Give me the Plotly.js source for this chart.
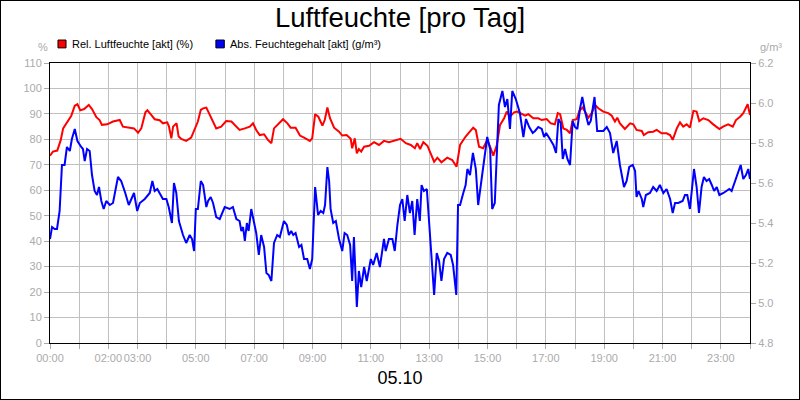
<!DOCTYPE html>
<html>
<head>
<meta charset="utf-8">
<script src="https://cdn.plot.ly/plotly-3.0.1.min.js"></script>
<style>
  html, body { margin: 0; padding: 0; background: #fff; }
  #wrap { width: 800px; height: 400px; box-sizing: border-box; border: 1px solid #000; }
  #chart { width: 798px; height: 398px; }
</style>
</head>
<body>
<div id="wrap"><div id="chart"></div></div>
<script>
// ---- Data (time in hours of 05.10) ----
const relTime = [0,0.10,0.25,0.37,0.45,0.62,0.73,0.85,0.94,1.04,1.17,1.33,1.44,1.59,1.70,1.78,1.96,2.16,2.27,2.39,2.50,2.73,2.88,3.02,3.13,3.27,3.34,3.47,3.59,3.76,3.87,4.02,4.08,4.16,4.22,4.34,4.41,4.50,4.67,4.84,4.96,5.07,5.17,5.25,5.36,5.48,5.59,5.70,5.87,6.04,6.22,6.33,6.50,6.68,6.85,6.96,7.07,7.19,7.34,7.47,7.59,7.68,7.82,7.99,8.14,8.25,8.42,8.57,8.71,8.91,8.99,9.09,9.20,9.34,9.42,9.51,9.60,9.74,9.91,10.02,10.17,10.31,10.36,10.45,10.52,10.59,10.67,10.77,10.94,11.11,11.28,11.45,11.62,11.79,12.02,12.20,12.37,12.51,12.59,12.69,12.80,12.94,13.05,13.17,13.28,13.42,13.62,13.79,13.94,14.06,14.25,14.40,14.51,14.60,14.71,14.85,14.99,15.11,15.20,15.32,15.43,15.57,15.66,15.77,15.91,16.02,16.29,16.40,16.57,16.74,16.86,17.03,17.17,17.31,17.41,17.49,17.60,17.72,17.83,17.92,18.06,18.15,18.26,18.34,18.46,18.57,18.69,18.80,18.97,19.14,19.26,19.37,19.45,19.54,19.71,19.89,20.00,20.11,20.29,20.36,20.51,20.68,20.80,20.97,21.14,21.26,21.35,21.49,21.60,21.71,21.83,21.94,22.06,22.17,22.26,22.40,22.57,22.74,22.95,23.08,23.25,23.41,23.52,23.66,23.77,23.92,24.0];
const relHum = [73.6,75.2,75.6,79.8,84.3,87.6,89.3,93.2,93.8,91.4,91.9,93.5,91.9,88.7,87.6,85.7,85.9,87.0,87.2,87.6,85.0,84.6,84.3,82.6,84.3,90.6,91.4,89.6,87.9,87.5,86.3,86.7,85.0,80.4,85.0,86.3,81.1,80.2,79.4,80.7,84.3,87.0,91.6,92.2,92.5,89.6,87.6,84.3,85.0,87.2,87.0,85.7,83.7,84.3,85.0,86.3,83.7,81.7,82.0,79.8,78.5,84.3,85.9,87.9,86.3,84.6,84.6,81.5,80.7,79.4,80.4,89.9,88.9,85.4,87.6,92.5,88.3,84.6,83.0,81.5,81.7,80.2,76.5,80.4,74.5,76.2,75.2,77.1,77.5,78.9,77.8,79.4,78.9,79.4,80.2,78.5,77.8,76.5,78.5,76.2,78.9,77.5,74.5,71.2,72.8,71.0,72.8,71.9,69.3,77.8,81.1,83.0,84.6,83.7,77.1,76.5,79.8,76.5,73.6,77.8,85.7,88.3,90.9,88.9,90.6,90.9,89.3,89.9,88.3,88.3,87.6,88.0,86.3,85.9,90.3,89.9,84.3,83.7,82.4,87.6,87.9,91.2,92.5,90.9,88.5,90.3,93.5,92.2,90.9,90.3,89.3,87.0,88.5,86.3,84.1,86.3,85.9,83.7,83.3,81.7,82.8,83.0,83.7,82.4,82.4,81.7,79.8,84.3,86.7,85.0,85.9,84.6,91.2,90.9,87.2,88.3,87.6,85.9,84.1,85.0,85.9,85.0,87.6,88.9,90.3,93.8,89.6];

const absTime = [0,0.07,0.16,0.24,0.33,0.41,0.50,0.58,0.68,0.75,0.85,0.94,1.07,1.13,1.19,1.27,1.36,1.44,1.53,1.61,1.68,1.76,1.84,1.93,2.05,2.16,2.33,2.44,2.58,2.70,2.88,2.99,3.08,3.25,3.42,3.51,3.59,3.68,3.87,3.99,4.07,4.18,4.25,4.33,4.42,4.56,4.67,4.79,4.87,4.94,5.00,5.07,5.17,5.25,5.36,5.42,5.51,5.59,5.70,5.82,5.99,6.16,6.27,6.39,6.50,6.56,6.62,6.68,6.75,6.81,6.90,6.99,7.07,7.16,7.24,7.34,7.42,7.50,7.59,7.68,7.79,7.88,8.02,8.12,8.19,8.27,8.34,8.42,8.54,8.62,8.71,8.82,8.91,8.99,9.09,9.19,9.28,9.37,9.43,9.51,9.57,9.62,9.71,9.80,9.91,10.02,10.10,10.19,10.29,10.36,10.42,10.52,10.59,10.67,10.77,10.86,11.00,11.08,11.20,11.31,11.45,11.51,11.62,11.74,11.82,11.91,12.00,12.08,12.16,12.25,12.34,12.42,12.50,12.59,12.68,12.74,12.82,12.92,12.99,13.09,13.17,13.26,13.34,13.42,13.51,13.62,13.74,13.82,13.93,13.99,14.06,14.17,14.25,14.31,14.40,14.50,14.60,14.68,14.77,14.86,14.99,15.09,15.16,15.25,15.34,15.39,15.51,15.60,15.68,15.77,15.85,15.97,16.11,16.23,16.32,16.43,16.55,16.63,16.74,16.86,16.94,17.01,17.14,17.26,17.35,17.43,17.51,17.58,17.66,17.74,17.83,17.92,18.00,18.08,18.17,18.25,18.34,18.46,18.54,18.61,18.67,18.76,18.86,18.97,19.09,19.20,19.31,19.43,19.54,19.68,19.77,19.86,19.98,20.06,20.11,20.18,20.29,20.34,20.43,20.57,20.68,20.80,20.91,21.03,21.14,21.26,21.35,21.43,21.54,21.69,21.77,21.85,21.94,22.00,22.08,22.17,22.25,22.34,22.42,22.51,22.60,22.69,22.77,22.86,22.95,23.09,23.20,23.29,23.37,23.49,23.60,23.68,23.77,23.86,23.94,24.0];
const absHum = [5.32,5.38,5.37,5.37,5.46,5.69,5.69,5.78,5.76,5.82,5.87,5.81,5.78,5.77,5.71,5.77,5.76,5.64,5.56,5.54,5.58,5.51,5.47,5.51,5.49,5.50,5.63,5.61,5.55,5.49,5.55,5.46,5.50,5.52,5.55,5.61,5.56,5.57,5.52,5.52,5.48,5.40,5.60,5.55,5.41,5.34,5.30,5.34,5.32,5.26,5.47,5.47,5.61,5.59,5.48,5.51,5.53,5.50,5.43,5.42,5.48,5.47,5.48,5.42,5.41,5.36,5.38,5.31,5.40,5.36,5.47,5.41,5.35,5.24,5.34,5.28,5.15,5.14,5.11,5.30,5.34,5.33,5.41,5.39,5.34,5.36,5.34,5.35,5.28,5.29,5.22,5.22,5.17,5.22,5.58,5.44,5.46,5.45,5.49,5.68,5.61,5.47,5.40,5.41,5.32,5.26,5.35,5.34,5.29,5.11,5.33,4.98,5.16,5.08,5.18,5.11,5.22,5.19,5.25,5.18,5.32,5.26,5.32,5.32,5.26,5.39,5.49,5.52,5.41,5.54,5.45,5.51,5.34,5.52,5.41,5.59,5.56,5.57,5.42,5.22,5.04,5.25,5.21,5.11,5.22,5.25,5.24,5.19,5.04,5.49,5.49,5.55,5.59,5.67,5.64,5.75,5.67,5.49,5.59,5.70,5.83,5.77,5.47,5.50,5.87,5.99,6.06,5.98,6.02,5.87,6.06,6.02,5.95,5.83,5.92,5.88,5.85,5.86,5.88,5.87,5.83,5.85,5.82,5.79,5.75,5.92,5.90,5.72,5.77,5.72,5.69,5.91,5.88,5.87,5.97,6.03,5.96,5.89,5.91,5.97,6.03,5.86,5.86,5.86,5.88,5.85,5.75,5.81,5.69,5.58,5.61,5.68,5.69,5.66,5.53,5.56,5.52,5.48,5.54,5.55,5.58,5.56,5.59,5.55,5.57,5.52,5.45,5.50,5.50,5.51,5.54,5.54,5.47,5.56,5.67,5.58,5.45,5.58,5.63,5.61,5.62,5.59,5.56,5.58,5.54,5.55,5.56,5.57,5.56,5.61,5.66,5.69,5.62,5.64,5.67,5.62];

const hourTicks = [0,1,2,3,4,5,6,7,8,9,10,11,12,13,14,15,16,17,18,19,20,21,22,23,24];
const hourLabels = ['00:00','','02:00','03:00','','05:00','','07:00','','09:00','','11:00','','13:00','','15:00','','17:00','','19:00','','21:00','','23:00',''];

const relName = 'Rel. Luftfeuchte [akt] (%)';
const absName = 'Abs. Feuchtegehalt [akt] (g/m³)';
const relColor = '#ff0000';
const absColor = '#0000ff';

const FONT = 'Liberation Sans, Arial, sans-serif';
const GRAY = '#aaaaaa';

const traces = [
  { x: relTime, y: relHum, type: 'scatter', mode: 'lines', name: relName,
    line: { color: relColor, width: 2 }, yaxis: 'y', showlegend: false },
  { x: absTime, y: absHum, type: 'scatter', mode: 'lines', name: absName,
    line: { color: absColor, width: 2 }, yaxis: 'y2', showlegend: false }
];

const layout = {
  width: 798, height: 398,
  margin: { l: 49, r: 49, t: 62, b: 56 },
  paper_bgcolor: '#ffffff', plot_bgcolor: '#ffffff',
  font: { family: FONT, size: 11, color: GRAY },
  title: { text: 'Luftfeuchte [pro Tag]', font: { family: FONT, size: 27.5, color: '#000' },
           x: 0.5, xanchor: 'center', y: 0.96, yanchor: 'middle' },
  xaxis: {
    range: [0, 24], tickmode: 'array', tickvals: hourTicks, ticktext: hourLabels,
    tickangle: 0,
    showgrid: true, gridcolor: '#c0c0c0', gridwidth: 1,
    showline: true, linecolor: '#000', linewidth: 1, mirror: true,
    ticks: 'outside', ticklen: 5, tickcolor: GRAY,
    tickfont: { family: FONT, size: 11, color: GRAY },
    zeroline: false,
    title: { text: '05.10', font: { family: FONT, size: 18, color: '#000' }, standoff: 8 }
  },
  yaxis: {
    range: [0, 110], dtick: 10, tick0: 0,
    showgrid: true, gridcolor: '#c0c0c0', gridwidth: 1,
    showline: true, linecolor: '#000', linewidth: 1,
    ticks: 'outside', ticklen: 5, tickcolor: GRAY,
    tickfont: { family: FONT, size: 11, color: GRAY },
    zeroline: false
  },
  yaxis2: {
    range: [4.8, 6.2], dtick: 0.2, tick0: 4.8, tickformat: '.1f',
    overlaying: 'y', side: 'right',
    showgrid: false,
    showline: true, linecolor: '#000', linewidth: 1,
    ticks: 'outside', ticklen: 5, tickcolor: GRAY,
    tickfont: { family: FONT, size: 11, color: GRAY },
    zeroline: false
  },
  shapes: [
    { type: 'rect', xref: 'paper', yref: 'paper', x0: 0.0114, x1: 0.0229, y0: 1.054, y1: 1.082,
      fillcolor: relColor, line: { color: '#000', width: 1 } },
    { type: 'rect', xref: 'paper', yref: 'paper', x0: 0.237, x1: 0.249, y0: 1.054, y1: 1.082,
      fillcolor: absColor, line: { color: '#000', width: 1 } }
  ],
  annotations: [
    { text: relName, xref: 'paper', yref: 'paper', x: 0.0286, y: 1.068, xanchor: 'left', yanchor: 'middle',
      showarrow: false, font: { family: FONT, size: 11, color: '#000' } },
    { text: absName, xref: 'paper', yref: 'paper', x: 0.254, y: 1.068, xanchor: 'left', yanchor: 'middle',
      showarrow: false, font: { family: FONT, size: 11, color: '#000' } },
    { text: '%', xref: 'paper', yref: 'paper', x: -0.01, y: 1.057, xanchor: 'center', yanchor: 'middle',
      showarrow: false, font: { family: FONT, size: 11, color: GRAY } },
    { text: 'g/m³', xref: 'paper', yref: 'paper', x: 1.03, y: 1.057, xanchor: 'center', yanchor: 'middle',
      showarrow: false, font: { family: FONT, size: 11, color: GRAY } }
  ]
};

Plotly.newPlot('chart', traces, layout, { displayModeBar: false, staticPlot: true });
</script>
</body>
</html>
